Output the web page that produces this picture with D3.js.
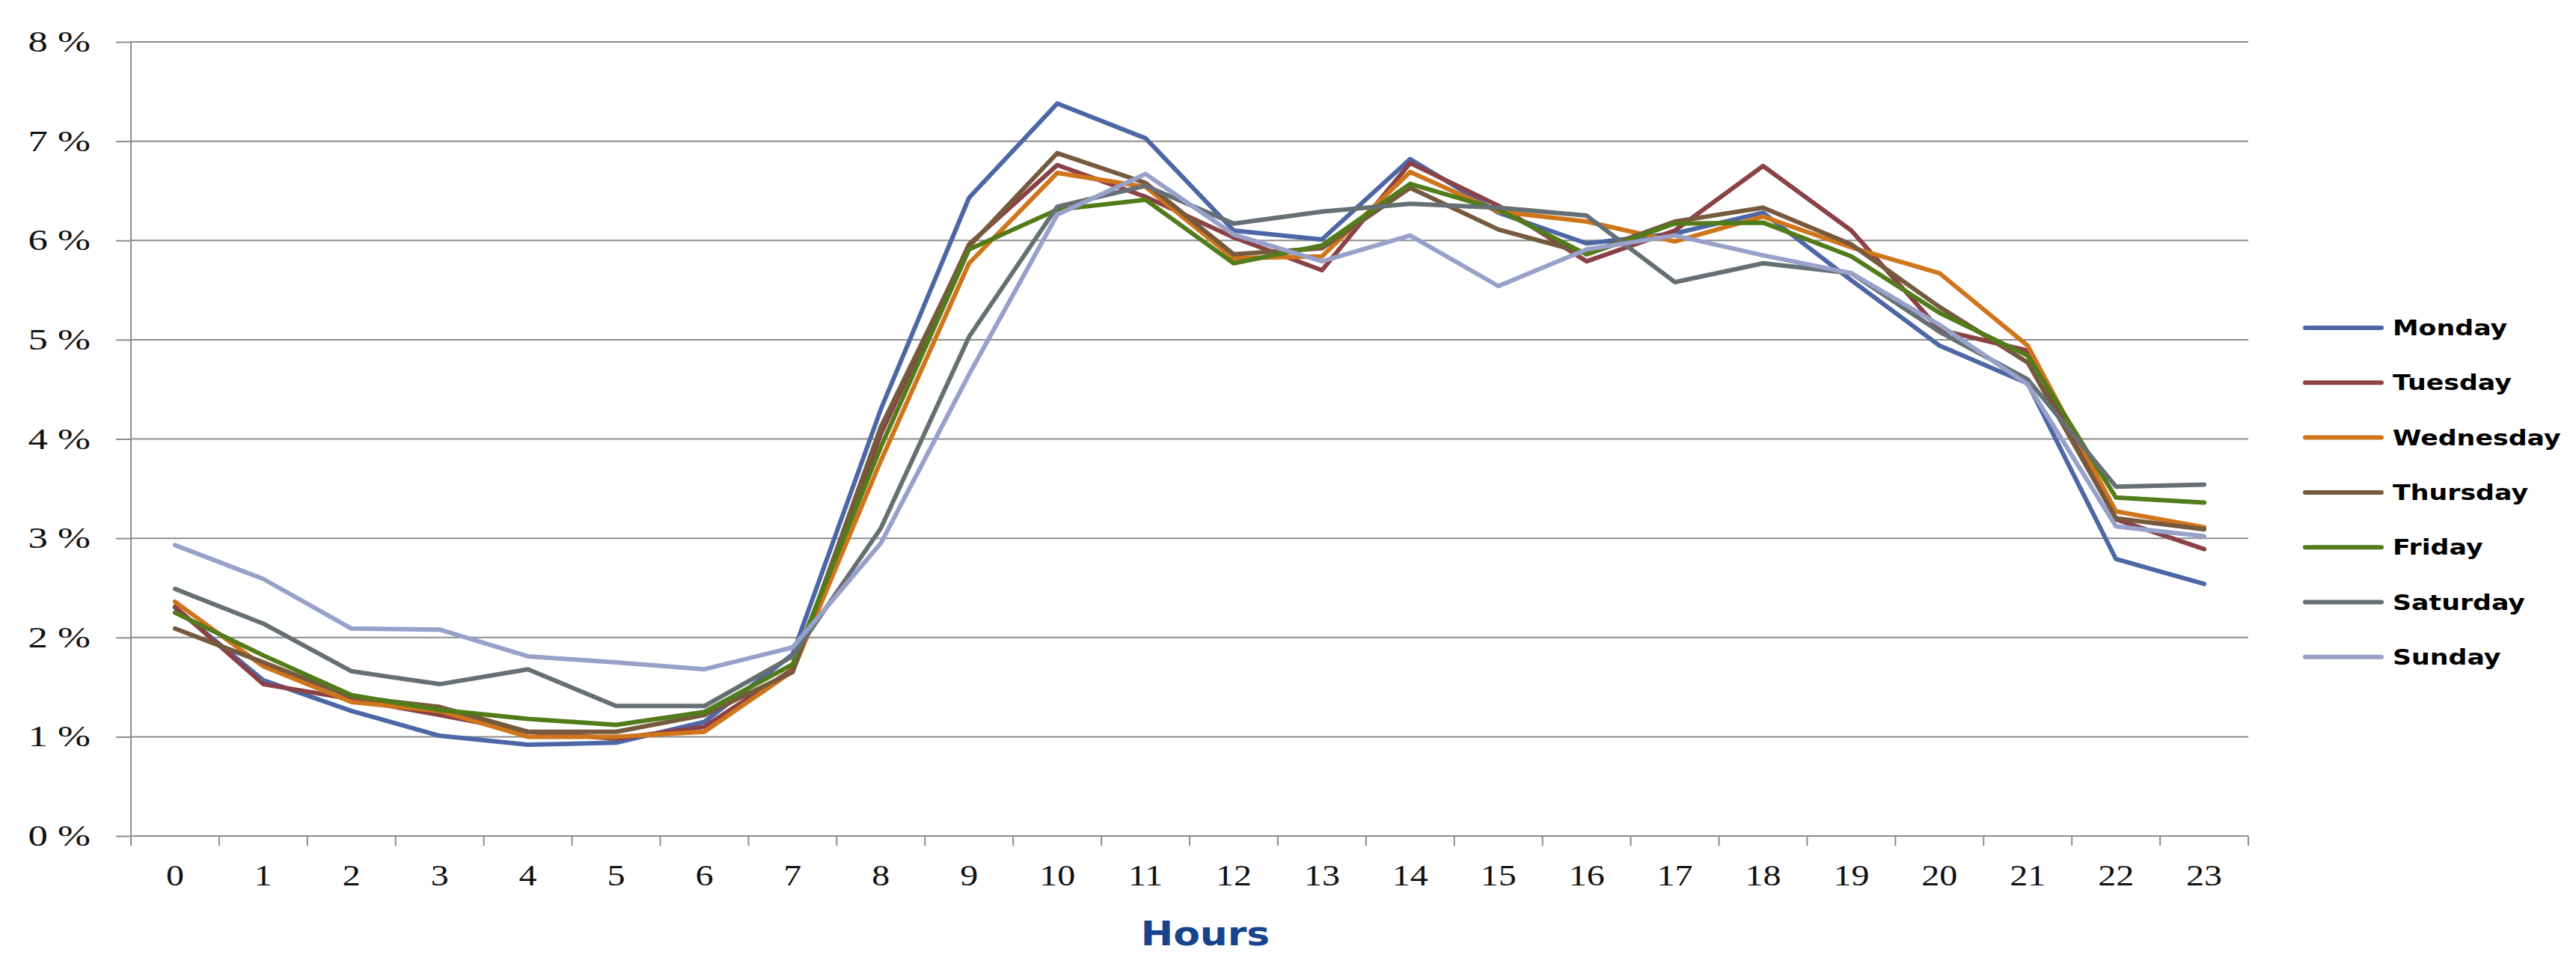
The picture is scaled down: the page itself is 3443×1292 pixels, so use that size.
<!DOCTYPE html>
<html>
<head>
<meta charset="utf-8">
<script src="https://cdn.jsdelivr.net/npm/d3@7"></script>
<style>
  html, body { margin: 0; padding: 0; background: #ffffff; }
  svg { display: block; }
</style>
</head>
<body>
<svg id="chart" width="3443" height="1292"></svg>
<script>
// ---- data ----
const hours = ["0","1","2","3","4","5","6","7","8","9","10","11","12","13","14","15","16","17","18","19","20","21","22","23"];
const yTicks = [0, 1, 2, 3, 4, 5, 6, 7, 8];
const seriesNames = ["Monday", "Tuesday", "Wednesday", "Thursday", "Friday", "Saturday", "Sunday"];
const monday    = [2.30, 1.57, 1.26, 1.01, 0.92, 0.94, 1.15, 1.83, 4.30, 6.43, 7.38, 7.03, 6.10, 6.01, 6.82, 6.28, 5.97, 6.07, 6.28, 5.60, 4.94, 4.56, 2.79, 2.54];
const tuesday   = [2.31, 1.53, 1.38, 1.22, 1.05, 0.98, 1.10, 1.68, 4.05, 5.96, 6.76, 6.44, 6.03, 5.70, 6.78, 6.35, 5.79, 6.10, 6.75, 6.10, 5.10, 4.89, 3.19, 2.89];
const wednesday = [2.36, 1.71, 1.35, 1.26, 1.00, 1.00, 1.05, 1.66, 3.78, 5.77, 6.68, 6.54, 5.82, 5.84, 6.69, 6.29, 6.19, 5.99, 6.24, 5.93, 5.67, 4.94, 3.27, 3.11];
const thursday  = [2.09, 1.75, 1.40, 1.30, 1.05, 1.05, 1.22, 1.65, 4.12, 5.94, 6.88, 6.58, 5.86, 5.92, 6.53, 6.11, 5.87, 6.19, 6.33, 5.96, 5.33, 4.77, 3.20, 3.09];
const friday    = [2.25, 1.82, 1.42, 1.27, 1.18, 1.12, 1.25, 1.73, 3.92, 5.91, 6.31, 6.41, 5.77, 5.95, 6.57, 6.31, 5.86, 6.17, 6.18, 5.84, 5.27, 4.84, 3.41, 3.36];
const saturday  = [2.49, 2.14, 1.66, 1.53, 1.68, 1.31, 1.31, 1.81, 3.10, 5.03, 6.34, 6.55, 6.17, 6.29, 6.37, 6.33, 6.25, 5.58, 5.77, 5.67, 5.08, 4.60, 3.52, 3.54];
const sunday    = [2.93, 2.59, 2.09, 2.08, 1.81, 1.75, 1.68, 1.90, 2.95, 4.65, 6.26, 6.67, 6.06, 5.79, 6.05, 5.54, 5.91, 6.05, 5.85, 5.67, 5.15, 4.55, 3.12, 3.02];
const seriesValues = [monday, tuesday, wednesday, thursday, friday, saturday, sunday];
const seriesColors = ["#4D67A6", "#8B4246", "#D0751A", "#765A3E", "#527B1A", "#667074", "#97A1C9"];
const xTitle = "Hours";

// ---- layout ----
const svg = d3.select("#chart");
const plotLeft = 175, plotRight = 3005, plotTop = 56, plotBottom = 1117;
const gridColor = "#8c8c8c";
const stretch = 1.2;

const x = d3.scaleBand().domain(hours).range([plotLeft, plotRight]).paddingInner(0).paddingOuter(0);
const y = d3.scaleLinear().domain([0, 8]).range([plotBottom, plotTop]);
const cx = h => x(h) + x.bandwidth() / 2;

svg.append("rect").attr("width", 3443).attr("height", 1292).attr("fill", "#ffffff");

// y ticks (outer) via axis
const yAxis = d3.axisLeft(y).tickValues(yTicks).tickSize(20).tickFormat("");
const gy = svg.append("g").attr("transform", `translate(${plotLeft},0)`).call(yAxis);
gy.select(".domain").remove();
gy.selectAll(".tick line").attr("stroke", gridColor).attr("stroke-width", 2);

// gridlines
svg.append("g").selectAll("line").data(yTicks).join("line")
  .attr("x1", plotLeft).attr("x2", plotRight)
  .attr("y1", d => y(d)).attr("y2", d => y(d))
  .attr("stroke", gridColor).attr("stroke-width", 2);

// y axis line
svg.append("line").attr("x1", plotLeft).attr("x2", plotLeft).attr("y1", y(8)).attr("y2", plotBottom + 13)
  .attr("stroke", gridColor).attr("stroke-width", 2);

// y labels
svg.append("g").selectAll("text").data(yTicks).join("text")
  .attr("transform", d => `translate(121, ${y(d) + 13}) scale(1.32,1)`)
  .attr("text-anchor", "end")
  .attr("font-family", "'Liberation Serif', serif")
  .attr("font-size", 40)
  .attr("fill", "#111")
  .text(d => `${d} %`);

// x boundary ticks
const boundaries = hours.map(h => x(h)).concat([plotRight]);
svg.append("g").selectAll("line").data(boundaries).join("line")
  .attr("x1", d => d).attr("x2", d => d).attr("y1", plotBottom).attr("y2", plotBottom + 13)
  .attr("stroke", gridColor).attr("stroke-width", 2);

// x labels
svg.append("g").selectAll("text").data(hours).join("text")
  .attr("transform", d => `translate(${cx(d)}, 1183) scale(${stretch},1)`)
  .attr("text-anchor", "middle")
  .attr("font-family", "'Liberation Serif', serif")
  .attr("font-size", 40)
  .attr("fill", "#111")
  .text(d => d);

// x title
svg.append("text")
  .attr("transform", `translate(1611, 1263) scale(1.18,1)`)
  .attr("text-anchor", "middle")
  .attr("font-family", "'DejaVu Sans', sans-serif")
  .attr("font-weight", "bold")
  .attr("font-size", 44)
  .attr("fill", "#17448C")
  .text(xTitle);

// lines
const line = d3.line().x((d, i) => cx(hours[i])).y(d => y(d));
svg.append("g").selectAll("path").data(seriesValues).join("path")
  .attr("d", d => line(d))
  .attr("fill", "none")
  .attr("stroke", (d, i) => seriesColors[i])
  .attr("stroke-width", 6)
  .attr("stroke-linejoin", "round")
  .attr("stroke-linecap", "round");

// legend
const legendY0 = 438, legendDy = 73.3;
const lg = svg.append("g").selectAll("g").data(seriesNames).join("g")
  .attr("transform", (d, i) => `translate(0, ${legendY0 + i * legendDy})`);
lg.append("line").attr("x1", 3081).attr("x2", 3183).attr("y1", 0).attr("y2", 0)
  .attr("stroke", (d, i) => seriesColors[i]).attr("stroke-width", 6).attr("stroke-linecap", "round");
lg.append("text")
  .attr("transform", `translate(3198, 10) scale(${stretch},1)`)
  .attr("font-family", "'DejaVu Sans', sans-serif")
  .attr("font-weight", "bold")
  .attr("font-size", 29)
  .attr("fill", "#000")
  .text(d => d);
</script>
</body>
</html>
